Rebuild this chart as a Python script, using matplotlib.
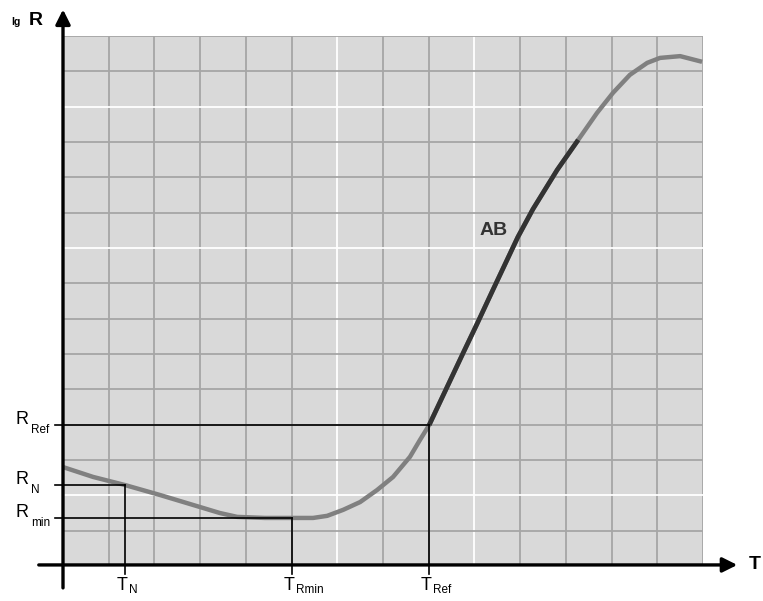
import matplotlib
matplotlib.use("Agg")
import matplotlib.pyplot as plt

# ---- data (grid units) ----
T_curve = [0.00, 0.66, 1.36, 2.12, 2.84, 3.43, 3.81, 4.42, 5.03, 5.47, 5.78, 6.13,
           6.50, 6.87, 7.22, 7.59, 7.81, 8.01, 8.40, 8.75, 9.06, 9.41, 9.95, 10.28,
           10.81, 11.27, 11.68, 12.03, 12.40, 12.78, 13.06, 13.50, 13.98]
lgR_curve = [2.80, 2.52, 2.29, 2.01, 1.73, 1.50, 1.39, 1.36, 1.36, 1.36, 1.42, 1.59,
             1.81, 2.15, 2.52, 3.09, 3.57, 3.99, 5.06, 6.02, 6.86, 7.83, 9.31, 10.10,
             11.21, 12.06, 12.82, 13.39, 13.90, 14.24, 14.38, 14.43, 14.27]
AB_range = (8.01, 11.27)

T_marks = [1.36, 5.01, 8.01]          # T_N, T_Rmin, T_Ref
R_marks = [2.29, 1.36, 3.99]          # R_N, R_min, R_Ref
T_labels = [("T", "N"), ("T", "Rmin"), ("T", "Ref")]
R_labels = [("R", "N"), ("R", "min"), ("R", "Ref")]

n_cols, n_rows = 14, 15
white_x = [6, 9]
white_y = [2, 9, 13]

W, H = 763, 601
fig = plt.figure(figsize=(W / 100, H / 100), dpi=100)
x0, y0, x1, y1 = 63, 566, 703, 36
ax = fig.add_axes([x0 / W, 1 - y0 / H, (x1 - x0) / W, (y0 - y1) / H])
ax.set_xlim(0, n_cols)
ax.set_ylim(0, n_rows)
ax.set_facecolor("#d9d9d9")
for s in ax.spines.values():
    s.set_visible(False)
ax.set_xticks([])
ax.set_yticks([])

grid_c = "#a6a6a6"
for i in range(1, n_cols + 1):
    ax.axvline(i, color="white" if i in white_x else grid_c, lw=1.3, zorder=1)
for j in range(1, n_rows + 1):
    ax.axhline(j, color="white" if j in white_y else grid_c, lw=1.3, zorder=1)

# curve
ax.plot(T_curve, lgR_curve, color="#808080", lw=3.2, solid_capstyle="butt",
        solid_joinstyle="round", zorder=3)
abT = [t for t in T_curve if AB_range[0] <= t <= AB_range[1]]
abR = [r for t, r in zip(T_curve, lgR_curve) if AB_range[0] <= t <= AB_range[1]]
ax.plot(abT, abR, color="#333333", lw=3.4, solid_capstyle="butt",
        solid_joinstyle="round", zorder=4)
ax.text(9.41, 9.5, "AB", fontsize=14, fontweight="bold", color="#333333",
        family="Liberation Sans", ha="center", va="center", zorder=5)

# reference lines
for t, r in zip(T_marks, R_marks):
    ax.plot([-0.18, t], [r, r], color="black", lw=1.2, clip_on=False, zorder=5)
    ax.plot([t, t], [r, -0.22], color="black", lw=1.2, clip_on=False, zorder=5)

# axes arrows
ax.annotate("", xy=(0, 15.75), xytext=(0, -0.62),
            arrowprops=dict(arrowstyle="-|>", color="black", lw=2.4,
                            mutation_scale=22, shrinkA=0, shrinkB=0),
            annotation_clip=False, zorder=6)
ax.annotate("", xy=(14.75, 0.03), xytext=(-0.53, 0.03),
            arrowprops=dict(arrowstyle="-|>", color="black", lw=2.4,
                            mutation_scale=22, shrinkA=0, shrinkB=0),
            annotation_clip=False, zorder=6)

fam = ["Liberation Sans Narrow", "Liberation Sans"]
ax.text(-0.59, 15.45, "R", fontsize=14, fontweight="bold", family="Liberation Sans",
        ha="center", va="center", clip_on=False)
ax.text(-1.03, 15.40, "lg", fontsize=7.5, fontweight="bold", family="Liberation Sans",
        ha="center", va="center", clip_on=False)
ax.text(15.14, 0.05, "T", fontsize=14, fontweight="bold", family="Liberation Sans",
        ha="center", va="center", clip_on=False)

for (main, sub), r in zip(R_labels, R_marks):
    ax.text(-0.75, r - 0.08, main, fontsize=13, family=fam, ha="right", va="bottom",
            clip_on=False)
    ax.text(-0.7, r - 0.3, sub, fontsize=8.5, family=fam, ha="left", va="bottom",
            clip_on=False)
for (main, sub), t in zip(T_labels, T_marks):
    ax.text(t + 0.06, -0.3, main, fontsize=13, family=fam, ha="right", va="top",
            clip_on=False)
    ax.text(t + 0.08, -0.52, sub, fontsize=8.5, family=fam, ha="left", va="top",
            clip_on=False)

fig.savefig("out.png", dpi=100)
